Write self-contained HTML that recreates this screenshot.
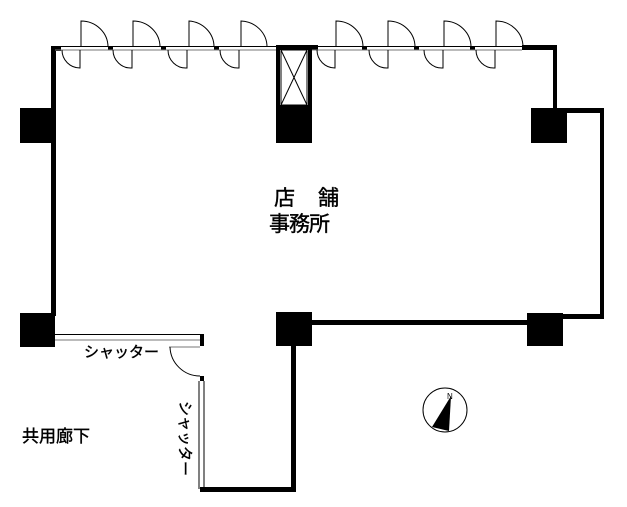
<!DOCTYPE html>
<html><head><meta charset="utf-8"><style>
html,body{margin:0;padding:0;background:#fff}
svg{display:block}
text{font-family:"Liberation Sans","Noto Sans CJK JP",sans-serif;fill:#000}
</style></head><body>
<svg width="627" height="507" viewBox="0 0 627 507" xmlns="http://www.w3.org/2000/svg">
<g fill="#000">
<rect x="20" y="108" width="35" height="35"/>
<rect x="20" y="313" width="35" height="34"/>
<rect x="276" y="105" width="36" height="38"/>
<rect x="276" y="312" width="36" height="34"/>
<rect x="531" y="108" width="36" height="35"/>
<rect x="527" y="313" width="36" height="33"/>
<rect x="51" y="46" width="5" height="270"/>
<rect x="51" y="46" width="10" height="5"/>
<rect x="276" y="45" width="42" height="5"/>
<rect x="276" y="45" width="4" height="62"/>
<rect x="308" y="45" width="4" height="62"/>
<rect x="522" y="45" width="35" height="5"/>
<rect x="553" y="45" width="4" height="65"/>
<rect x="567" y="108" width="37" height="5"/>
<rect x="600" y="108" width="4" height="210"/>
<rect x="563" y="314" width="41" height="5"/>
<rect x="312" y="320" width="215" height="5"/>
<rect x="291" y="346" width="5" height="145"/>
<rect x="200" y="487" width="96" height="5"/>
<rect x="200" y="334" width="4" height="12"/>
<rect x="200" y="376" width="4" height="5"/>
<rect x="108" y="46" width="5" height="4"/>
<rect x="161" y="46" width="5" height="4"/>
<rect x="214" y="46" width="5" height="4"/>
<rect x="362" y="46" width="5" height="4"/>
<rect x="414" y="46" width="5" height="4"/>
<rect x="470" y="46" width="5" height="4"/>
</g>
<g stroke="#000" stroke-width="1" fill="none">
<line x1="55" y1="46.5" x2="276" y2="46.5"/>
<line x1="55" y1="50" x2="276" y2="50" stroke="#777"/>
<line x1="312" y1="46.5" x2="522" y2="46.5"/>
<line x1="312" y1="50" x2="522" y2="50" stroke="#777"/>
<rect x="281" y="50" width="26" height="55"/>
<line x1="281" y1="50" x2="307" y2="105"/>
<line x1="307" y1="50" x2="281" y2="105"/>
<line x1="55" y1="334.5" x2="202" y2="334.5"/>
<line x1="55" y1="340" x2="200" y2="340" stroke="#777"/>
<line x1="199" y1="381" x2="199" y2="489"/>
<line x1="204" y1="381" x2="204" y2="489"/>
<line x1="169" y1="347" x2="200" y2="347" stroke="#777"/>
<path d="M170 347 A30 30 0 0 0 200 376"/>
</g>
<g stroke="#000" stroke-width="1" fill="none">
<path d="M81 47 V21 A27 26 0 0 1 108 47 M62 50 A18 18 0 0 0 80 68 V50"/>
<path d="M133 47 V21 A27 26 0 0 1 160 47 M113 50 A18 18 0 0 0 132 68 V50"/>
<path d="M189 47 V21 A27 26 0 0 1 214 47 M168 50 A18 18 0 0 0 187 68 V50"/>
<path d="M241 47 V21 A27 26 0 0 1 267 47 M220 50 A18 18 0 0 0 239 68 V50"/>
<path d="M336 47 V21 A27 26 0 0 1 363 47 M317 50 A18 18 0 0 0 335 68 V50"/>
<path d="M388 47 V21 A27 26 0 0 1 415 47 M369 50 A18 18 0 0 0 388 68 V50"/>
<path d="M444 47 V21 A27 26 0 0 1 471 47 M424 50 A18 18 0 0 0 443 68 V50"/>
<path d="M496 47 V21 A27 26 0 0 1 523 47 M476 50 A18 18 0 0 0 495 68 V50"/>
</g>
<circle cx="445" cy="410" r="22" fill="none" stroke="#000" stroke-width="1"/>
<path d="M432 427 L451 396 L449 431 Z" fill="#000"/>
<text x="447" y="399" font-size="8">N</text>
<g stroke="#000" stroke-width="0.4">
<text x="274" y="205" font-size="21">店</text>
<text x="318" y="205" font-size="21">舗</text>
<text x="269" y="231" font-size="21" letter-spacing="-1">事務所</text>
<text x="22" y="442" font-size="17">共用廊下</text>
<text x="84" y="357" font-size="15">シャッター</text>
<text font-size="15" transform="translate(180,401) rotate(90)">シャッター</text>
</g>
</svg>
</body></html>
